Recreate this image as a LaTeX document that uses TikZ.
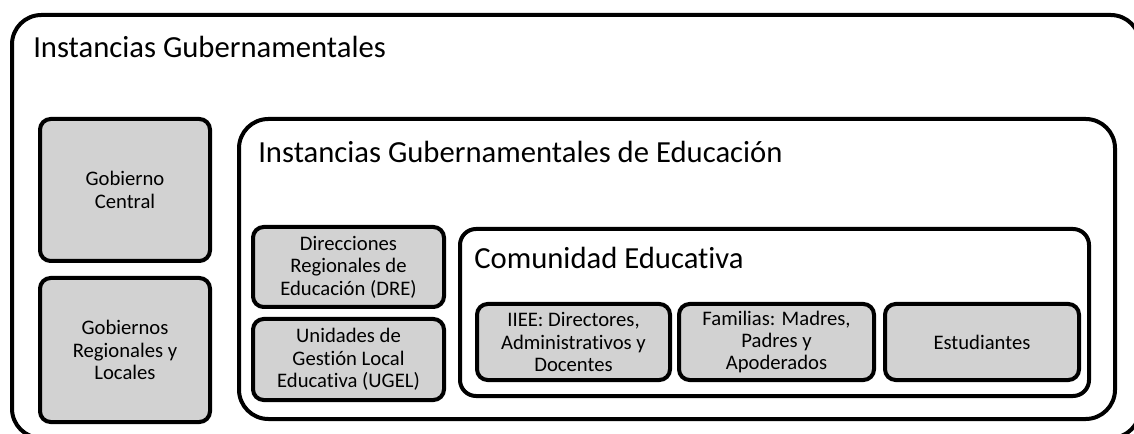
\documentclass[tikz,border=0pt]{standalone}
\usepackage{fontspec}
\setmainfont{Carlito}[Ligatures=NoCommon]
\usetikzlibrary{positioning}

\begin{document}
\begin{tikzpicture}[x=0.75pt, y=-0.75pt]
	\tikzset{FrameStyle/.style = {
			draw=black,
			line width=3pt,
			rounded corners=22pt,
			inner sep=0pt
	}}
	\tikzset{BoxStyle/.style = {
			draw=black,
			line width=3pt,
			fill=gray!35,
			rounded corners=8pt,
			inner sep=0pt,
			align=center,
			font=\fontsize{15.5}{16.8}\selectfont
	}}
	\tikzset{TitleStyle/.style = {
			anchor=base west,
			inner sep=0pt,
			font=\fontsize{23}{26}\selectfont
	}}
	\useasboundingbox (0,0) rectangle (1134,434);

	% frames
	\node[FrameStyle, minimum width=846pt, minimum height=317.25pt] (gob) at (576,226.5) {};
	\node[FrameStyle, minimum width=657pt, minimum height=225pt] (edu) at (677,269) {};
	\node[FrameStyle, rounded corners=12pt, minimum width=471.75pt, minimum height=125.25pt] (com) at (774.5,312.5) {};

	\node[TitleStyle] (gobtitle) at (33,58) {Instancias Gubernamentales};
	\node[TitleStyle] (edutitle) at (258,163) {Instancias Gubernamentales de Educación};
	\node[TitleStyle] (comtitle) at (474,269) {Comunidad Educativa};

	% left column
	\node[BoxStyle, minimum width=127.5pt, minimum height=106.5pt] (central) at (125,190) {Gobierno\\Central};
	\node[BoxStyle, minimum width=127.5pt, minimum height=108pt, below=9.75pt of central] (regional) {Gobiernos\\Regionales y\\Locales};

	% education column
	\node[BoxStyle, minimum width=143.25pt, minimum height=60pt] (dre) at (348.5,267) {Direcciones\\Regionales de\\Educación (DRE)};
	\node[BoxStyle, minimum width=143.25pt, minimum height=60.75pt, below=6pt of dre] (ugel) {Unidades de\\Gestión Local\\Educativa (UGEL)};

	% community row
	\node[BoxStyle, minimum width=144.75pt, minimum height=57pt] (iiee) at (573.5,342) {IIEE: Directores,\\Administrativos y\\Docentes};
	\node[BoxStyle, minimum width=146.25pt, minimum height=57pt, right=3.75pt of iiee] (familias) {Familias: Madres,\\Padres y\\Apoderados};
	\node[BoxStyle, minimum width=145.5pt, minimum height=57pt, right=5.25pt of familias] (estudiantes) {Estudiantes};
\end{tikzpicture}
\end{document}
